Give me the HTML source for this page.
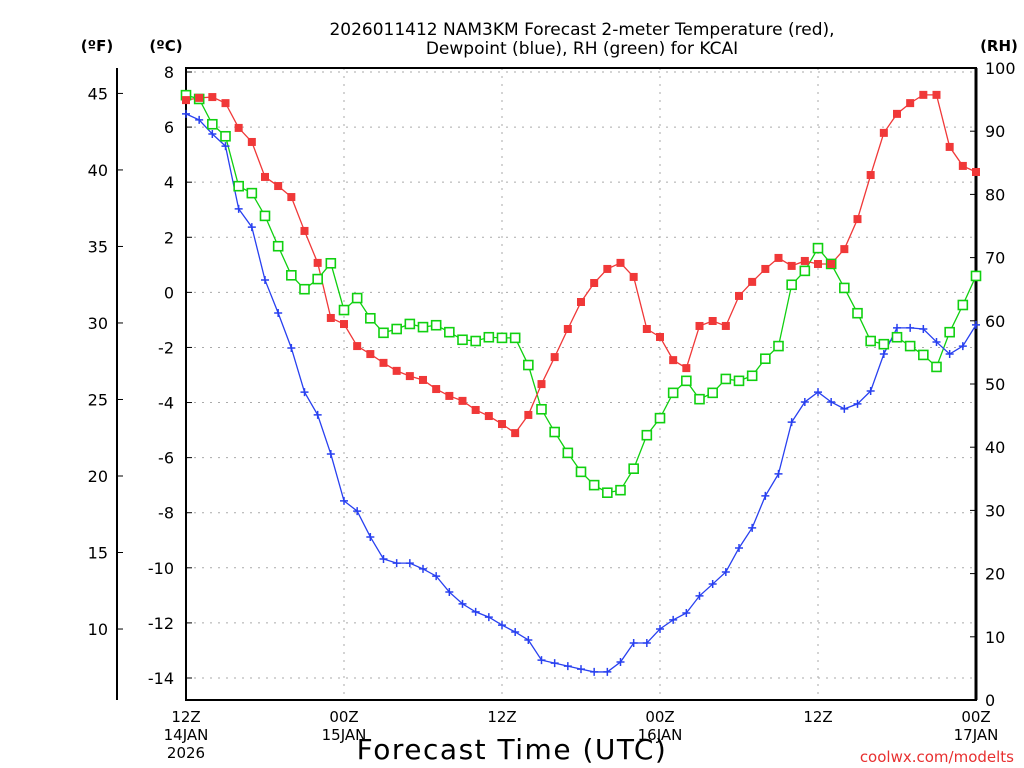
<!DOCTYPE html>
<html><head><meta charset="utf-8"><style>
body{margin:0;background:#fff;width:1024px;height:768px;overflow:hidden;font-family:"DejaVu Sans","Liberation Sans",sans-serif}
svg{display:block}
</style></head><body>
<svg id="c" width="1024" height="768" xmlns="http://www.w3.org/2000/svg">
<g id="grid"></g>
<g id="axes"></g>
<g id="series"></g>
<text x="582" y="35" font-size="17" text-anchor="middle">2026011412 NAM3KM Forecast 2-meter Temperature (red),</text>
<text x="582" y="54" font-size="17" text-anchor="middle">Dewpoint (blue), RH (green) for KCAI</text>
<text x="97" y="51" font-size="15" font-weight="bold" text-anchor="middle">(ºF)</text>
<text x="166" y="51" font-size="15" font-weight="bold" text-anchor="middle">(ºC)</text>
<text x="999" y="51" font-size="15" font-weight="bold" text-anchor="middle">(RH)</text>
<text x="512" y="759" font-size="28" letter-spacing="1.5" text-anchor="middle">Forecast Time (UTC)</text>
<text x="1014" y="762" font-size="15" fill="#e83030" text-anchor="end">coolwx.com/modelts</text>
</svg>
<script>
const tempC=[6.98,7.06,7.09,6.87,5.97,5.46,4.19,3.86,3.46,2.23,1.07,-0.93,-1.15,-1.95,-2.24,-2.56,-2.85,-3.04,-3.18,-3.51,-3.76,-3.94,-4.27,-4.49,-4.78,-5.11,-4.45,-3.33,-2.35,-1.33,-0.35,0.34,0.85,1.07,0.56,-1.33,-1.62,-2.46,-2.75,-1.22,-1.04,-1.22,-0.13,0.38,0.85,1.25,0.96,1.14,1.03,1.03,1.57,2.66,4.26,5.79,6.48,6.87,7.17,7.17,5.28,4.59,4.37];
const dewC=[6.48,6.26,5.75,5.31,3.03,2.37,0.45,-0.75,-2.02,-3.62,-4.45,-5.87,-7.57,-7.94,-8.88,-9.68,-9.83,-9.83,-10.04,-10.30,-10.88,-11.31,-11.60,-11.79,-12.08,-12.33,-12.62,-13.35,-13.46,-13.57,-13.68,-13.78,-13.78,-13.42,-12.73,-12.73,-12.22,-11.89,-11.64,-11.02,-10.59,-10.15,-9.28,-8.55,-7.39,-6.59,-4.71,-3.98,-3.62,-3.98,-4.23,-4.05,-3.58,-2.24,-1.29,-1.29,-1.33,-1.80,-2.24,-1.95,-1.18];
const rh=[95.7,95.1,91.1,89.2,81.3,80.2,76.6,71.8,67.2,65.0,66.6,69.1,61.7,63.6,60.4,58.1,58.7,59.5,59.0,59.3,58.2,57.0,56.8,57.4,57.3,57.3,53.0,46.0,42.4,39.1,36.1,34.0,32.8,33.2,36.6,41.9,44.6,48.6,50.5,47.6,48.6,50.8,50.5,51.3,54.0,56.0,65.7,67.9,71.5,69.0,65.2,61.2,56.8,56.3,57.4,56.0,54.6,52.7,58.2,62.5,67.1];
const cTicks=[8,6,4,2,0,-2,-4,-6,-8,-10,-12,-14];
const fTicks=[45,40,35,30,25,20,15,10];
const rhTicks=[100,90,80,70,60,50,40,30,20,10,0];
const xTickHours=[0,12,24,36,48,60];
const xTickLine1=["12Z","00Z","12Z","00Z","12Z","00Z"];
const xTickLine2=["14JAN","15JAN","","16JAN","","17JAN"];
const xTickLine3=["2026","","","","",""];

const NS="http://www.w3.org/2000/svg";
const L=186,R=976,T=68,B=700;
const x=h=>L+(R-L)*h/60;
const yC=c=>72+(8-c)*27.545;
const yF=f=>yC((f-32)*5/9);
const yR=r=>B-(B-T)*r/100;
function mk(p,tag,a){const e=document.createElementNS(NS,tag);for(const k in a)e.setAttribute(k,a[k]);p.appendChild(e);return e;}
const grid=document.getElementById('grid'),axes=document.getElementById('axes'),ser=document.getElementById('series');
cTicks.forEach(c=>{
  const g=mk(grid,'line',{x1:L,x2:R,y1:yC(c),y2:yC(c),stroke:'#aaa','stroke-dasharray':'2,6'});
  
  
  const t=mk(axes,'line',{x1:L,x2:L+6,y1:yC(c),y2:yC(c),stroke:'#000'});
  
  
  const lb=mk(axes,'text',{x:174,y:yC(c)+6,'font-size':16,'text-anchor':'end'});lb.textContent=c;
  
  
});
xTickHours.forEach((h,i)=>{
  if(h>0&&h<60){const g=mk(grid,'line',{x1:x(h),x2:x(h),y1:T,y2:B,stroke:'#aaa','stroke-dasharray':'2,6'});
  
  }
  [xTickLine1[i],xTickLine2[i],xTickLine3[i]].forEach((s,j)=>{if(!s)return;
    const lb=mk(axes,'text',{x:x(h),y:722+j*18,'font-size':15,'text-anchor':'middle'});lb.textContent=s;
    
    });
});
fTicks.forEach(f=>{
  const t=mk(axes,'line',{x1:117,x2:123,y1:yF(f),y2:yF(f),stroke:'#000'});
  
  
  const lb=mk(axes,'text',{x:108,y:yF(f)+6,'font-size':16,'text-anchor':'end'});lb.textContent=f;
  
  
});
rhTicks.forEach(r=>{
  const t=mk(axes,'line',{x1:R-6,x2:R,y1:yR(r),y2:yR(r),stroke:'#000'});
  
  
  const lb=mk(axes,'text',{x:985,y:yR(r)+6,'font-size':16});lb.textContent=r;
  
  
});
const fr=mk(axes,'rect',{x:L,y:T,width:R-L,height:B-T,fill:'none',stroke:'#000','stroke-width':2});


const ra=mk(axes,'line',{x1:R,x2:R,y1:T,y2:B,stroke:'#000','stroke-width':3});


const fa=mk(axes,'line',{x1:117,x2:117,y1:T,y2:B,stroke:'#000','stroke-width':2});



function line(vals,yf,col,name){
  const p=mk(ser,'polyline',{points:vals.map((v,i)=>x(i)+','+yf(v)).join(' '),fill:'none',stroke:col,'stroke-width':1.3});
  
  
}
line(rh,yR,'#10d010','rh');
line(tempC,yC,'#f03838','temperature');
line(dewC,yC,'#2840f0','dewpoint');
rh.forEach((v,i)=>{const m=mk(ser,'rect',{x:x(i)-4.5,y:yR(v)-4.5,width:9,height:9,fill:'#fff',stroke:'#10d010','stroke-width':1.6});
  
  });
tempC.forEach((v,i)=>{const m=mk(ser,'rect',{x:x(i)-4,y:yC(v)-4,width:8,height:8,fill:'#f03838'});
  
  });
dewC.forEach((v,i)=>{const m=mk(ser,'path',{d:`M${x(i)-4},${yC(v)}h8M${x(i)},${yC(v)-4}v8`,stroke:'#2840f0','stroke-width':1.5});
  
  });
</script>
</body></html>
